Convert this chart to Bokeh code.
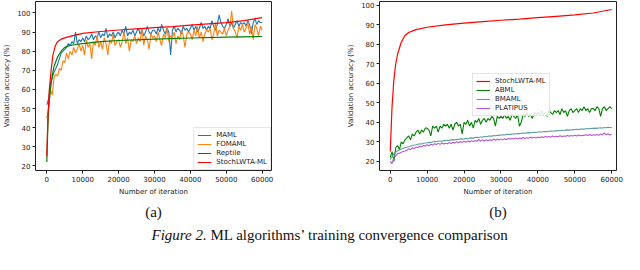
from bokeh.plotting import figure
from bokeh.layouts import column, row
from bokeh.models import Range1d, FixedTicker, Legend, LegendItem, Title, Label
from bokeh.core.properties import value
from bokeh.embed import file_html
from bokeh.resources import INLINE

# ---------------- data ----------------
iterations = list(range(0, 60001, 500))

maml = [52, 55, 63, 66, 69, 71, 73, 76, 79, 80,
        81, 82, 84, 83, 85, 84, 90, 84, 86, 85,
        87, 85, 88, 86, 87, 89, 86, 88, 87, 90,
        87, 89, 88, 92, 87, 89, 88, 90, 87, 89,
        90, 88, 91, 89, 93, 88, 90, 89, 91, 88,
        90, 92, 89, 91, 88, 90, 93, 90, 89, 91,
        91, 89, 92, 90, 94, 91, 89, 92, 90, 78,
        91, 93, 90, 92, 91, 89, 93, 91, 92, 90,
        92, 94, 91, 93, 90, 92, 95, 92, 93, 91,
        93, 92, 96, 93, 91, 94, 99, 95, 93, 92,
        94, 97, 93, 95, 92, 94, 96, 93, 95, 94,
        95, 93, 96, 94, 89, 95, 97, 94, 96, 95,
        95]

fomaml = [45, 50, 60, 57, 66, 68, 67, 71, 70, 75,
          74, 79, 76, 80, 78, 82, 79, 81, 84, 80,
          83, 78, 86, 82, 84, 76, 85, 83, 88, 82,
          85, 81, 87, 84, 78, 86, 84, 89, 83, 85,
          86, 82, 85, 90, 84, 87, 80, 86, 85, 88,
          84, 87, 85, 92, 83, 88, 86, 81, 89, 87,
          88, 85, 90, 86, 83, 89, 87, 92, 85, 88,
          87, 90, 84, 88, 86, 91, 88, 82, 89, 90,
          89, 86, 91, 88, 93, 87, 90, 85, 89, 91,
          90, 92, 86, 89, 95, 88, 91, 90, 89, 92,
          88, 91, 93, 101, 92, 90, 87, 93, 91, 94,
          90, 92, 95, 89, 93, 86, 94, 92, 88, 93,
          91]

reptile_iter = [0, 250, 500, 1000, 1500, 2000, 3000, 4000, 5000, 6000,
                8000, 10000, 15000, 20000, 30000, 40000, 50000, 60000]
reptile = [22, 38, 50, 60, 67, 72, 77, 80, 82, 82.8,
           83.5, 84, 85, 85.6, 86.3, 86.9, 87.4, 87.7]

stoch_a_iter = [0, 300, 700, 1200, 1700, 2400, 3000, 4000, 5000, 7000, 10000,
                15000, 20000, 25000, 30000, 35000, 40000, 45000, 50000, 55000, 60000]
stoch_a = [25, 45, 60, 70, 78, 83, 85, 86.3, 87.0, 88.0, 89.3,
           90.3, 91.1, 91.7, 92.3, 92.9, 93.6, 94.3, 95.0, 96.0, 97.6]

stoch_b_iter = [0, 500, 1000, 1500, 2000, 3000, 4000, 5000, 7000, 10000,
                15000, 20000, 25000, 30000, 35000, 40000, 45000, 50000, 55000, 60000]
stoch_b = [25, 48, 62, 70, 75, 81, 84.5, 86, 87.5, 88.7,
           89.9, 90.8, 91.6, 92.3, 92.9, 93.6, 94.3, 95.0, 96.0, 97.8]

abml = [22, 25, 20, 27, 28, 26, 30, 29, 31, 32,
        33, 31, 34, 33, 35, 36, 34, 36, 35, 37,
        37, 36, 33, 38, 37, 38, 35, 38, 37, 39,
        38, 39, 37, 39, 36, 39, 40, 38, 39, 34,
        40, 39, 41, 38, 40, 37, 41, 40, 42, 39,
        41, 42, 40, 42, 41, 43, 42, 38, 43, 42,
        43, 42, 44, 42, 43, 41, 44, 43, 42, 44,
        38, 40, 44, 43, 45, 43, 44, 42, 45, 44,
        45, 44, 46, 44, 45, 43, 46, 45, 44, 46,
        45, 46, 44, 47, 45, 46, 43, 46, 47, 45,
        46, 47, 45, 47, 46, 48, 46, 47, 45, 47,
        47, 46, 48, 47, 43, 47, 48, 46, 47, 48,
        47]

bmaml = [21.0, 22.5, 24.0, 24.6, 25.4, 25.8, 26.3, 26.6, 27.0, 27.2,
         27.5, 27.9, 28.0, 28.4, 28.5, 28.7, 29.0, 28.9, 29.3, 29.4,
         29.5, 29.7, 29.6, 30.0, 30.1, 30.0, 30.3, 30.4, 30.3, 30.6,
         30.6, 30.8, 30.7, 31.0, 31.1, 31.0, 31.3, 31.2, 31.5, 31.4,
         31.5, 31.7, 31.6, 31.9, 32.0, 31.9, 32.2, 32.3, 32.2, 32.5,
         32.5, 32.7, 32.6, 32.9, 33.0, 32.9, 33.2, 33.1, 33.4, 33.3,
         33.5, 33.6, 33.5, 33.8, 33.9, 33.8, 34.0, 34.1, 34.0, 34.3,
         34.2, 34.4, 34.5, 34.4, 34.6, 34.7, 34.6, 34.8, 34.9, 34.8,
         35.0, 35.1, 35.0, 35.2, 35.3, 35.2, 35.4, 35.5, 35.4, 35.6,
         35.6, 35.8, 35.7, 35.9, 35.8, 36.0, 36.1, 36.0, 36.2, 36.1,
         36.3, 36.4, 36.3, 36.5, 36.6, 36.5, 36.7, 36.8, 36.7, 36.9,
         36.9, 37.0, 36.9, 37.1, 37.2, 37.1, 37.3, 37.2, 37.4, 37.3,
         37.3]

platipus = [20.0, 18.8, 22.0, 22.8, 23.9, 24.2, 24.6, 25.0, 25.3, 25.7,
            26.4, 26.0, 26.9, 26.6, 27.3, 27.0, 27.8, 27.4, 28.1, 27.8,
            28.5, 28.0, 28.7, 28.3, 29.0, 28.6, 29.2, 28.7, 29.4, 28.9,
            29.3, 29.0, 29.6, 29.1, 29.8, 29.3, 30.0, 29.5, 30.2, 29.7,
            30.3, 29.8, 30.5, 29.9, 30.6, 30.1, 30.7, 30.2, 31.3, 30.3,
            30.9, 30.4, 31.0, 30.6, 31.1, 30.7, 31.4, 30.8, 31.3, 31.0,
            31.5, 31.0, 31.6, 31.1, 31.8, 31.3, 31.7, 31.4, 32.0, 31.5,
            31.9, 31.6, 32.2, 31.7, 32.1, 31.8, 32.4, 32.0, 32.3, 32.0,
            32.5, 32.1, 32.6, 32.2, 32.8, 32.3, 32.7, 32.4, 33.0, 32.5,
            32.9, 32.6, 33.1, 32.7, 33.0, 32.8, 33.3, 32.9, 33.2, 33.0,
            33.4, 33.0, 33.5, 33.1, 33.3, 33.2, 33.6, 33.2, 33.7, 33.3,
            33.6, 33.4, 33.8, 33.3, 34.0, 33.5, 34.6, 33.6, 34.1, 33.5,
            33.8]

x_ticks = [0, 10000, 20000, 30000, 40000, 50000, 60000]
y_ticks = [20, 30, 40, 50, 60, 70, 80, 90, 100]

AX_FONT = "DejaVu Sans"
SERIF = "Liberation Serif"


def make_fig(width, height, x_range, y_range, bl, br, bt, bb, caption):
    p = figure(width=width, height=height, x_range=x_range, y_range=y_range,
               toolbar_location=None, output_backend="svg",
               min_border_left=bl, min_border_right=br,
               min_border_top=bt, min_border_bottom=bb)
    p.xgrid.visible = False
    p.ygrid.visible = False
    p.outline_line_color = "#222222"
    p.outline_line_width = 1
    p.background_fill_color = "white"
    p.border_fill_color = "white"
    for ax in (p.xaxis[0], p.yaxis[0]):
        ax.axis_line_color = None
        ax.major_tick_line_color = "#222222"
        ax.major_tick_out = 3
        ax.major_tick_in = 0
        ax.minor_tick_line_color = None
        ax.major_label_text_font = AX_FONT
        ax.major_label_text_font_size = "7px"
        ax.major_label_text_color = "#222222"
        ax.axis_label_text_font = AX_FONT
        ax.axis_label_text_font_size = "7px"
        ax.axis_label_text_font_style = "normal"
        ax.axis_label_text_color = "#222222"
        ax.major_label_standoff = 2
        ax.axis_label_standoff = 3
    p.xaxis[0].ticker = FixedTicker(ticks=x_ticks)
    p.yaxis[0].ticker = FixedTicker(ticks=y_ticks)
    p.xaxis[0].axis_label = "Number of iteration"
    p.yaxis[0].axis_label = "Validation accuracy (%)"
    p.add_layout(Title(text=caption, align="center", text_font=SERIF,
                       text_font_size="15px", text_font_style="normal",
                       text_color="#111111", standoff=6), "below")
    return p


def style_legend(lg):
    lg.label_text_font = AX_FONT
    lg.label_text_font_size = "7px"
    lg.label_text_color = "#222222"
    lg.label_height = 8
    lg.glyph_height = 8
    lg.glyph_width = 14
    lg.label_standoff = 5
    lg.spacing = 1
    lg.padding = 3
    lg.border_line_color = "#cccccc"
    lg.border_line_width = 1
    lg.background_fill_alpha = 0.85


# ---------------- panel (a) ----------------
pa = make_fig(316, 222, Range1d(-3150, 62600), Range1d(17.6, 106),
              27, 45, 1, 50, "(a)")
r1 = pa.line(iterations, maml, line_color="#1f77b4", line_width=1.1)
r2 = pa.line(iterations, fomaml, line_color="#ff7f0e", line_width=1.1)
r3 = pa.line(reptile_iter, reptile, line_color="#008000", line_width=1.2)
r4 = pa.line(stoch_a_iter, stoch_a, line_color="#ff0000", line_width=1.2)
lga = Legend(items=[LegendItem(label="MAML", renderers=[r1]),
                    LegendItem(label="FOMAML", renderers=[r2]),
                    LegendItem(label="Reptile", renderers=[r3]),
                    LegendItem(label="StochLWTA-ML", renderers=[r4])],
             location="bottom_right", margin=0)
style_legend(lga)
pa.add_layout(lga, "center")

# ---------------- panel (b) ----------------
pb = make_fig(308, 222, Range1d(-2900, 61300), Range1d(15.3, 101.9),
              63, 8, 1, 50, "(b)")
s1 = pb.line(stoch_b_iter, stoch_b, line_color="#ff0000", line_width=1.2)
s2 = pb.line(iterations, abml, line_color="#008000", line_width=1.1)
s3 = pb.line(iterations, bmaml, line_color="#5f9ea0", line_width=1.1)
s4 = pb.line(iterations, platipus, line_color="#ba55d3", line_width=1.1)
lgb = Legend(items=[LegendItem(label="StochLWTA-ML", renderers=[s1]),
                    LegendItem(label="ABML", renderers=[s2]),
                    LegendItem(label="BMAML", renderers=[s3]),
                    LegendItem(label="PLATIPUS", renderers=[s4])],
             location=(93, 54), margin=5)
style_legend(lgb)
pb.add_layout(lgb, "center")

# ---------------- figure caption ----------------
pc = figure(width=624, height=22, x_range=Range1d(0, 624), y_range=Range1d(0, 22),
            toolbar_location=None, output_backend="svg", min_border=0)
pc.axis.visible = False
pc.grid.visible = False
pc.outline_line_color = None
pc.add_layout(Label(x=151, y=2, x_units="screen", y_units="screen",
                    text="Figure 2.", text_font=SERIF, text_font_size="15px",
                    text_font_style="italic", text_color="#111111",
                    text_baseline="bottom"))
pc.add_layout(Label(x=210, y=2, x_units="screen", y_units="screen",
                    text="ML algorithms\u2019 training convergence comparison",
                    text_font=SERIF, text_font_size="15px",
                    text_font_style="normal", text_color="#111111",
                    text_baseline="bottom"))

layout = column(row(pa, pb), pc)
open("out.html", "w").write(file_html(layout, INLINE))
